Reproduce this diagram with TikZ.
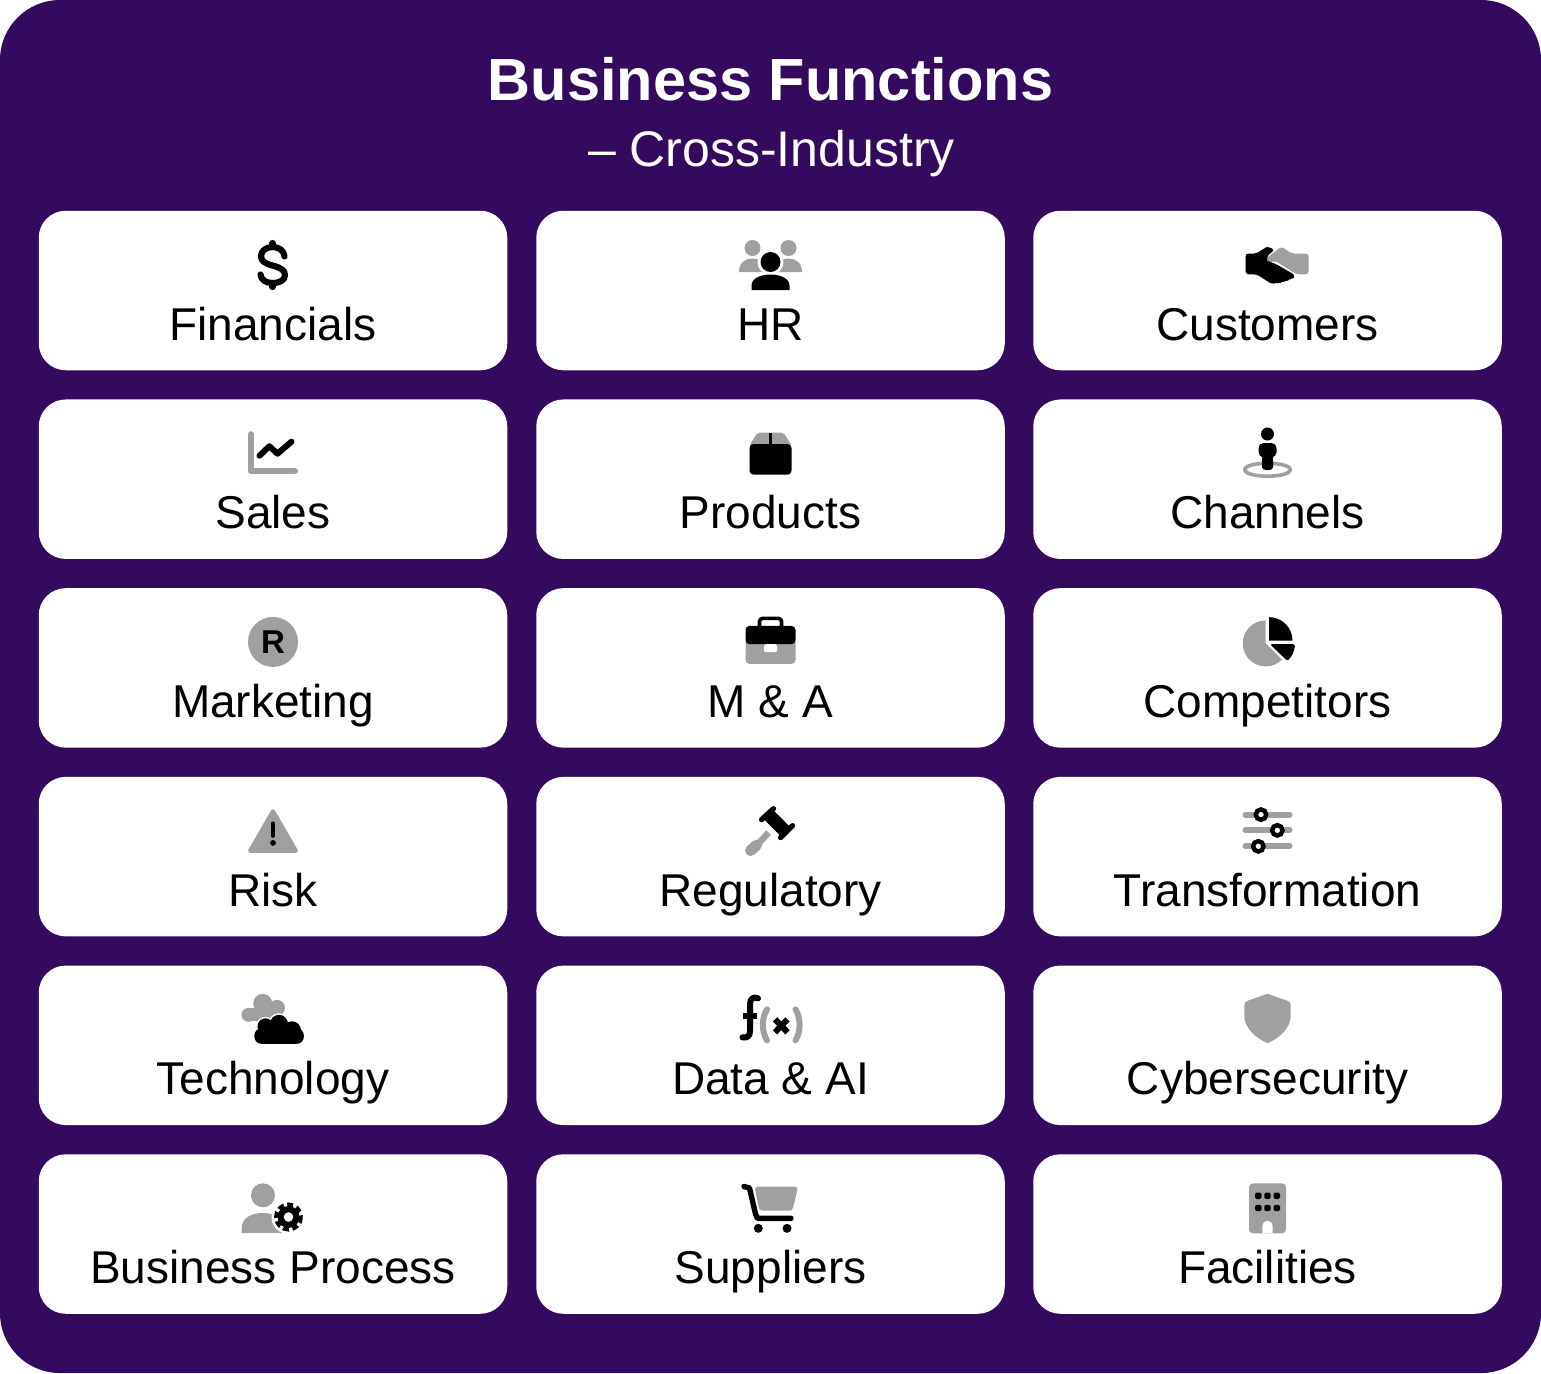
\documentclass[tikz,border=0pt]{standalone}
\usepackage{fontspec}
\setmainfont{Liberation Sans}
\definecolor{panelpurple}{HTML}{340A5E}
\definecolor{icongray}{HTML}{A0A0A0}
\begin{document}
\begin{tikzpicture}[
    x=0.5pt, y=-0.5pt,
    node distance=94.35pt,
    panel/.style={rectangle, rounded corners=30pt, fill=panelpurple, minimum width=770.5pt, minimum height=686.5pt, inner sep=0pt},
    card/.style={rectangle, rounded corners=13.5pt, fill=white, minimum width=234.25pt, minimum height=79.75pt, inner sep=0pt, text height=58pt, text depth=8.5pt, font=\fontsize{23}{27}\selectfont},
    heading/.style={anchor=base, text=white, font=\fontsize{29.75}{36}\selectfont\bfseries},
    subheading/.style={anchor=base, text=white, font=\fontsize{25}{30}\selectfont},
    dark/.style={fill=black},
    light/.style={fill=icongray},
    darkline/.style={draw=black, line width=2.7pt, line cap=round, line join=round},
    lightline/.style={draw=icongray, line width=2.7pt, line cap=round, line join=round}
]
    \useasboundingbox (0,0) rectangle (1541,1373);
    % Panel and heading
    \node[panel] (bg) at (770.5,686.5) {};
    \node[heading] (title) at (770.5,100.5) {Business Functions};
    \node[subheading] (subtitle) at (771.5,166.5) {-- Cross-Industry};

    % Cards, first column
    \node[card] (fin) at (273,290.5) {Financials};
    \node[card, below of=fin] (sales) {Sales};
    \node[card, below of=sales] (mkt) {Marketing};
    \node[card, below of=mkt] (risk) {Risk};
    \node[card, below of=risk] (tech) {Technology};
    \node[card, below of=tech] (proc) {Business Process};

    % Cards, second column
    \node[card, right of=fin, node distance=248.75pt] (hr) {HR};
    \node[card, below of=hr] (prod) {Products};
    \node[card, below of=prod] (ma) {M \& A};
    \node[card, below of=ma] (reg) {Regulatory};
    \node[card, below of=reg] (data) {Data \& AI};
    \node[card, below of=data] (supp) {Suppliers};

    % Cards, third column
    \node[card, right of=hr, node distance=248.5pt] (cust) {Customers};
    \node[card, below of=cust] (chan) {Channels};
    \node[card, below of=chan] (comp) {Competitors};
    \node[card, below of=comp] (trans) {Transformation};
    \node[card, below of=trans] (cyber) {Cybersecurity};
    \node[card, below of=cyber] (fac) {Facilities};

    % Financials icon
    \begin{scope}[shift={(fin.center)}]
        \draw[darkline, line width=3.1pt] (11.5,-34) .. controls (11,-40) and (6,-43.5) .. (-0.5,-43.5) .. controls (-7,-43.5) and (-12,-39.5) .. (-12,-34.5) .. controls (-12,-29.5) and (-8,-27) .. (-0.5,-25) .. controls (7,-23) and (12,-20.5) .. (12,-15.5) .. controls (12,-10.5) and (7,-7.5) .. (-0.5,-7.5) .. controls (-7,-7.5) and (-12,-10.5) .. (-12.5,-16);
        \draw[darkline, line width=3.1pt] (-0.5,-47.5) -- (-0.5,-43.5);
        \draw[darkline, line width=3.1pt] (-0.5,-7.5) -- (-0.5,-3.5);
    \end{scope}

    % HR icon
    \begin{scope}[shift={(hr.center)}]
        \fill[light] (-18,-42.5) circle (8);
        \fill[light] (18,-42.5) circle (8);
        \fill[light] (-31.5,-18.5) .. controls (-31.5,-28) and (-25,-32) .. (-18,-32) .. controls (-11,-32) and (-4,-28) .. (-4,-18.5) -- cycle;
        \fill[light] (4,-18.5) .. controls (4,-28) and (11,-32) .. (18,-32) .. controls (25,-32) and (31.5,-28) .. (31.5,-18.5) -- cycle;
        \fill[white] (0,-28.5) circle (13);
        \fill[white] (-21,1) rectangle (21,-18);
        \fill[dark] (0,-28.5) circle (10);
        \fill[dark] (-19,-0.5) -- (-19,-5) .. controls (-19,-12) and (-10,-16) .. (0,-16) .. controls (10,-16) and (19,-12) .. (19,-5) -- (19,-0.5) -- cycle;
    \end{scope}

    % Customers icon
    \begin{scope}[shift={(cust.center)}]
        \fill[dark, rounded corners=1.5pt] (-22,-37) -- (-11,-37) -- (-2,-43) -- (1,-44) -- (7,-40.5) -- (-1,-34) -- (1,-29) -- (7.5,-27) -- (27.5,-15.5) -- (25.5,-11) -- (21,-12) -- (19.5,-8.5) -- (14.5,-9.5) -- (12,-6.5) -- (8,-8.5) -- (5,-6) -- (-11,-16.2) -- (-22,-16.2) -- cycle;
        \fill[light, rounded corners=1.5pt] (-1.5,-32) -- (14,-44) -- (24,-37) -- (41,-37) -- (41,-16.2) -- (29,-16.2) -- (8,-29.5) -- (1,-28) -- cycle;
    \end{scope}

    % Sales icon
    \begin{scope}[shift={(sales.center)}]
        \draw[lightline, line width=3pt] (-22,-45) -- (-22,-8) -- (22,-8);
        \draw[darkline, line width=3pt] (-13.5,-23.5) -- (-3.6,-33) -- (4.5,-25.5) -- (18.5,-37.5);
    \end{scope}

    % Products icon
    \begin{scope}[shift={(prod.center)}]
        \fill[light, rounded corners=1pt] (-13,-46.5) -- (13,-46.5) -- (21,-34) -- (-21,-34) -- cycle;
        \fill[dark] (-1.2,-46.5) rectangle (1.2,-35);
        \fill[dark, rounded corners=2pt] (-21,-35.2) rectangle (21,-4.5);
    \end{scope}

    % Channels icon
    \begin{scope}[shift={(chan.center)}]
        \draw[lightline, line width=1.8pt] (0,-9.5) ellipse (23 and 6.5);
        \fill[dark] (0,-45.2) circle (6.5);
        \fill[dark] (-4,-36.2) -- (4,-36.2) .. controls (7,-36.2) and (9,-34) .. (9,-31) -- (9,-27) .. controls (9,-24.5) and (7,-23) .. (5.5,-22) -- (5.5,-12) .. controls (5.5,-10) and (3,-9) .. (0,-9) .. controls (-3,-9) and (-5.5,-10) .. (-5.5,-12) -- (-5.5,-22) .. controls (-7,-23) and (-9,-24.5) .. (-9,-27) -- (-9,-31) .. controls (-9,-34) and (-7,-36.2) .. (-4,-36.2) -- cycle;
    \end{scope}

    % Marketing icon
    \begin{scope}[shift={(mkt.center)}]
        \fill[light] (0,-26) circle (25);
        \node[font=\fontsize{16.5}{20}\selectfont\bfseries, inner sep=0pt] (mktmark) at (0,-26) {R};
    \end{scope}

    % M & A icon
    \begin{scope}[shift={(ma.center)}]
        \draw[darkline, line width=1.8pt, line cap=butt, rounded corners=1.5pt] (-11,-40) -- (-11,-49.5) -- (11,-49.5) -- (11,-40);
        \fill[light, rounded corners=2pt] (-25,-30) rectangle (25,-4);
        \fill[dark, rounded corners=2pt] (-25,-23.7) -- (-25,-42) -- (25,-42) -- (25,-23.7) -- cycle;
        \fill[white, rounded corners=1pt] (-6.5,-23.7) rectangle (6.5,-15.7);
    \end{scope}

    % Competitors icon
    \begin{scope}[shift={(comp.center)}]
        \fill[light] (-1.8,-24.5) -- (-1.8,-47.5) arc[start angle=270, end angle=45, radius=23] -- cycle;
        \fill[dark] (1.5,-27.3) -- (1.5,-50.8) arc[start angle=270, end angle=360, radius=23.5] -- cycle;
        \fill[dark, rounded corners=1pt] (2.5,-23.7) -- (27.5,-23.7) .. controls (27,-17) and (24,-11) .. (19.8,-7) -- cycle;
    \end{scope}

    % Risk icon
    \begin{scope}[shift={(risk.center)}]
        \fill[light, rounded corners=2pt] (0,-49.5) -- (26.5,-3.7) -- (-26.5,-3.7) -- cycle;
        \draw[darkline, line width=1.7pt] (0,-33.5) -- (0,-20.5);
        \fill[dark] (0,-13.7) circle (2.9);
    \end{scope}

    % Regulatory icon
    \begin{scope}[shift={(reg.center)}]
        \draw[lightline, line width=3.2pt, line cap=butt] (-12.5,-12.5) -- (-2,-24);
        \draw[lightline, line width=5.5pt] (-20,-6) -- (-14,-11.5);
        \draw[darkline, line width=6.5pt, line cap=butt] (-3,-43) -- (16,-24);
        \draw[darkline, line width=2.6pt] (3,-48) -- (-9,-37);
        \draw[darkline, line width=2.6pt] (22,-31) -- (10,-19);
    \end{scope}

    % Transformation icon
    \begin{scope}[shift={(trans.center)}]
        \draw[lightline, line width=3pt] (-22,-42) -- (22,-42);
        \draw[lightline, line width=3pt] (-22,-26.3) -- (22,-26.3);
        \draw[lightline, line width=3pt] (-22,-10.3) -- (22,-10.3);
        \draw[draw=black, fill=white, line width=2.2pt] (-6.5,-42) circle (5.2);
        \draw[draw=black, fill=white, line width=2.2pt] (9.8,-26.3) circle (5.2);
        \draw[draw=black, fill=white, line width=2.2pt] (-9.2,-10.3) circle (5.2);
    \end{scope}

    % Technology icon
    \begin{scope}[shift={(tech.center)}]
        \fill[light] (-24.5,-30.5) circle (7);
        \fill[light] (-10.3,-42) circle (9.5);
        \fill[light] (4,-37.5) circle (8);
        \fill[light] (-24,-37.5) rectangle (8,-24);
        \path[draw=white, line width=1.5pt, rounded corners=3.5pt] (-18.6,-17) rectangle (30.8,-1.5);
        \path[draw=white, line width=1.5pt] (6,-21.5) circle (9);
        \path[draw=white, line width=1.5pt] (-7.5,-19) circle (8);
        \path[draw=white, line width=1.5pt] (19,-15) circle (9);
        \fill[dark, rounded corners=3.5pt] (-18.6,-17) rectangle (30.8,-1.5);
        \fill[dark] (6,-21.5) circle (9);
        \fill[dark] (-7.5,-19) circle (8);
        \fill[dark] (19,-15) circle (9);
    \end{scope}

    % Data & AI icon
    \begin{scope}[shift={(data.center)}]
        \draw[darkline, line width=3pt] (-12.5,-47) .. controls (-17,-49) and (-20.5,-47) .. (-20.5,-41) -- (-20.5,-14) .. controls (-20.5,-9) and (-24,-7) .. (-28,-8);
        \draw[darkline, line cap=butt] (-28,-29.5) -- (-14,-29.5);
        \draw[lightline, line width=3pt] (-3.5,-36) .. controls (-9,-27) and (-9,-14) .. (-3.5,-5);
        \draw[lightline, line width=3pt] (25,-36) .. controls (30.5,-27) and (30.5,-14) .. (25,-5);
        \draw[darkline, line cap=butt, line width=3pt] (4.5,-26) -- (17,-13);
        \draw[darkline, line cap=butt, line width=3pt] (17,-26) -- (4.5,-13);
    \end{scope}

    % Cybersecurity icon
    \begin{scope}[shift={(cyber.center)}]
        \fill[light] (-1,-51.2) -- (1,-51.2) -- (20,-44.5) .. controls (22.5,-43.5) and (23.2,-42.5) .. (23.2,-40) -- (23.2,-29) .. controls (23.2,-18) and (12,-7) .. (0,-2.2) .. controls (-12,-7) and (-23.2,-18) .. (-23.2,-29) -- (-23.2,-40) .. controls (-23.2,-42.5) and (-22.5,-43.5) .. (-20,-44.5) -- cycle;
    \end{scope}

    % Business Process icon
    \begin{scope}[shift={(proc.center)}]
        \fill[light] (-10,-38.7) circle (12);
        \fill[light] (-31.3,-1) -- (-31.3,-6) .. controls (-31.3,-16) and (-22,-21) .. (-10,-21) .. controls (2,-21) and (10,-16) .. (10,-6) -- (10,-1) -- cycle;
        \fill[white] (15.5,-17) circle (17);
        \fill[dark] (15.5,-17) circle (11);
        \draw[black, line width=2.2pt, dash pattern=on 2.9pt off 1.8pt] (15.5,-17) circle (12.3);
        \fill[white] (15.5,-17) circle (4.8);
    \end{scope}

    % Suppliers icon
    \begin{scope}[shift={(supp.center)}]
        \fill[light, rounded corners=1.5pt] (-16,-47.3) -- (27.5,-47.3) -- (21.8,-23.3) -- (-11,-23.3) -- cycle;
        \draw[darkline, line width=2.7pt] (-26.5,-47.5) -- (-21,-46) -- (-15,-20) -- (-13,-15.7) -- (20.5,-15.7);
        \fill[dark] (-12.2,-5.7) circle (4.5);
        \fill[dark] (16.5,-5.7) circle (4.5);
    \end{scope}

    % Facilities icon
    \begin{scope}[shift={(fac.center)}]
        \fill[light, rounded corners=2pt] (-18.5,-50.7) rectangle (18.5,-0.7);
        \fill[white] (-5.2,-0.7) -- (-5.2,-8.1) arc[start angle=180, end angle=360, radius=5.2] -- (5.2,-0.7) -- cycle;
        \fill[dark, rounded corners=0.8pt] (-12.5,-41.5) rectangle (-6,-35);
        \fill[dark, rounded corners=0.8pt] (-3.2,-41.5) rectangle (3.2,-35);
        \fill[dark, rounded corners=0.8pt] (6,-41.5) rectangle (12.5,-35);
        \fill[dark, rounded corners=0.8pt] (-12.5,-29.2) rectangle (-6,-22.8);
        \fill[dark, rounded corners=0.8pt] (-3.2,-29.2) rectangle (3.2,-22.8);
        \fill[dark, rounded corners=0.8pt] (6,-29.2) rectangle (12.5,-22.8);
    \end{scope}
\end{tikzpicture}
\end{document}
